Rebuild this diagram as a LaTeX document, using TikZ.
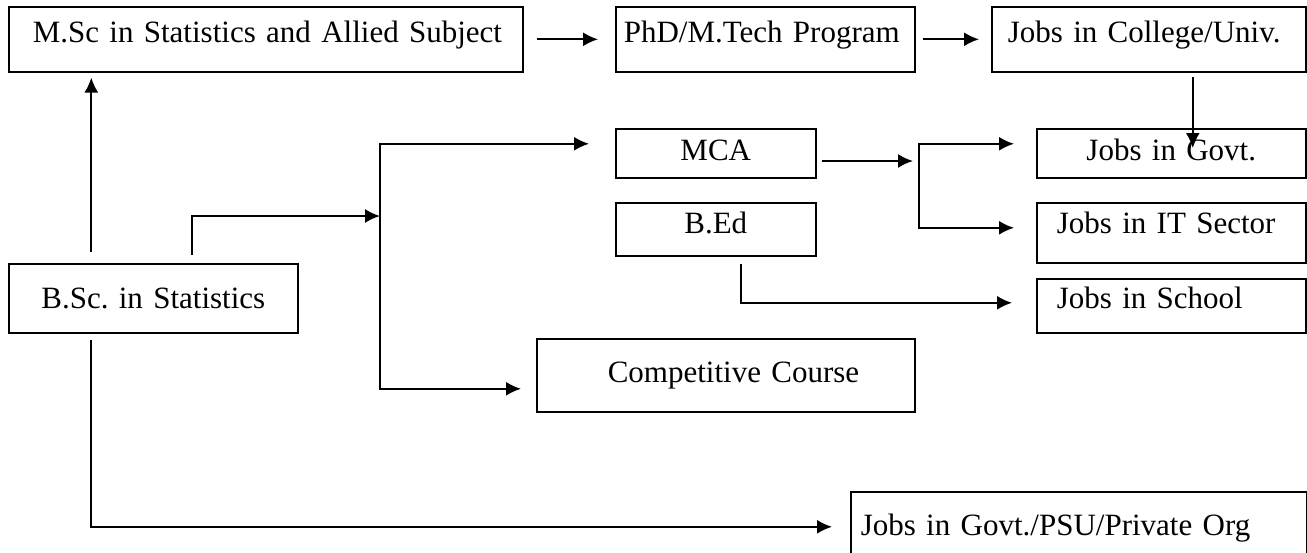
\documentclass[tikz,border=0pt]{standalone}
\usepackage{fontspec}
\setmainfont{Liberation Serif}
\usetikzlibrary{arrows.meta}
\tikzset{
  box/.style={draw, line width=0.8pt, anchor=north west, inner xsep=0pt, inner ysep=0pt,
    font=\fontsize{15.5}{18}\selectfont\frenchspacing},
  lbox/.style={box, align=left, execute at begin node={\hspace*{#1}}},
  cbox/.style={box, align=center},
  link/.style={draw, line width=0.9pt, -{Latex[length=7.5pt, width=7pt]}}
}
\begin{document}
\begin{tikzpicture}[x=0.5pt, y=-0.5pt]
  \useasboundingbox (0, 0) rectangle (1307, 552);
  \node[lbox=12pt, text width=257pt, text height=18pt, text depth=14.5pt] (msc) at (8, 6) {M.Sc in Statistics and Allied Subject};
  \node[lbox=4pt, text width=149.5pt, text height=18pt, text depth=14.5pt] (phd) at (615, 6) {PhD/M.Tech Program};
  \node[lbox=8pt, text width=157pt, text height=18pt, text depth=14.5pt] (college) at (991, 6) {Jobs in College/Univ.};
  \node[cbox, text width=100pt, text height=16pt, text depth=8.5pt] (mca) at (615, 128) {MCA};
  \node[cbox, text width=100pt, text height=15.5pt, text depth=11pt] (bed) at (615, 202) {B.Ed};
  \node[cbox, text width=134.5pt, text height=16pt, text depth=8.5pt] (govt) at (1036, 128) {Jobs in Govt.};
  \node[lbox=10pt, text width=134.5pt, text height=15.5pt, text depth=14.5pt] (it) at (1036, 202) {Jobs in IT Sector};
  \node[lbox=10pt, text width=134.5pt, text height=15pt, text depth=12pt] (school) at (1036, 278) {Jobs in School};
  \node[cbox, text width=144.5pt, text height=22.5pt, text depth=12pt] (bsc) at (8, 263) {B.Sc. in Statistics};
  \node[lbox=35.5pt, text width=189pt, text height=22pt, text depth=14.5pt] (comp) at (536, 338) {Competitive Course};
  \node[lbox=5pt, text width=228pt, text height=22pt, text depth=13pt] (psu) at (850, 491) {Jobs in Govt./PSU/Private Org};
  \coordinate (split) at (380, 216);
  \coordinate (mfork) at (919, 161);
  \coordinate (cg) at ([xshift=22pt]college.south);

  \path [link, shorten <=6.5pt, shorten >=8.5pt] (msc) -- (phd);
  \path [link, shorten <=3.5pt, shorten >=6pt] (phd) -- (college);
  \path [link, shorten >=-10pt] ([yshift=-2pt]cg) -- (cg |- govt.north);
  \path [link, shorten <=5.5pt, shorten >=2.5pt] ([xshift=-31pt]bsc.north) -- ([xshift=-31pt]bsc.north |- msc.south);
  \path [link, shorten <=4pt] ([xshift=19.5pt]bsc.north) |- (split);
  \path [link] (split) |- ([xshift=-13pt, yshift=4.75pt]mca.west);
  \path [link] (split) |- ([xshift=-7.5pt, yshift=-6.75pt]comp.west);
  \path [link, shorten >=3pt] ([xshift=2.5pt]mca.east |- mfork) -- (mfork);
  \path [link] (mfork) |- ([xshift=-11pt, yshift=4.75pt]govt.west);
  \path [link] (mfork) |- ([xshift=-11pt, yshift=2.5pt]it.west);
  \path [link, shorten <=3.5pt] ([xshift=12.5pt]bed.south) |- ([xshift=-12pt, yshift=1.5pt]school.west);
  \path [link, shorten <=3pt] ([xshift=-31pt]bsc.south) |- ([xshift=-9pt]psu.west);
\end{tikzpicture}
\end{document}
